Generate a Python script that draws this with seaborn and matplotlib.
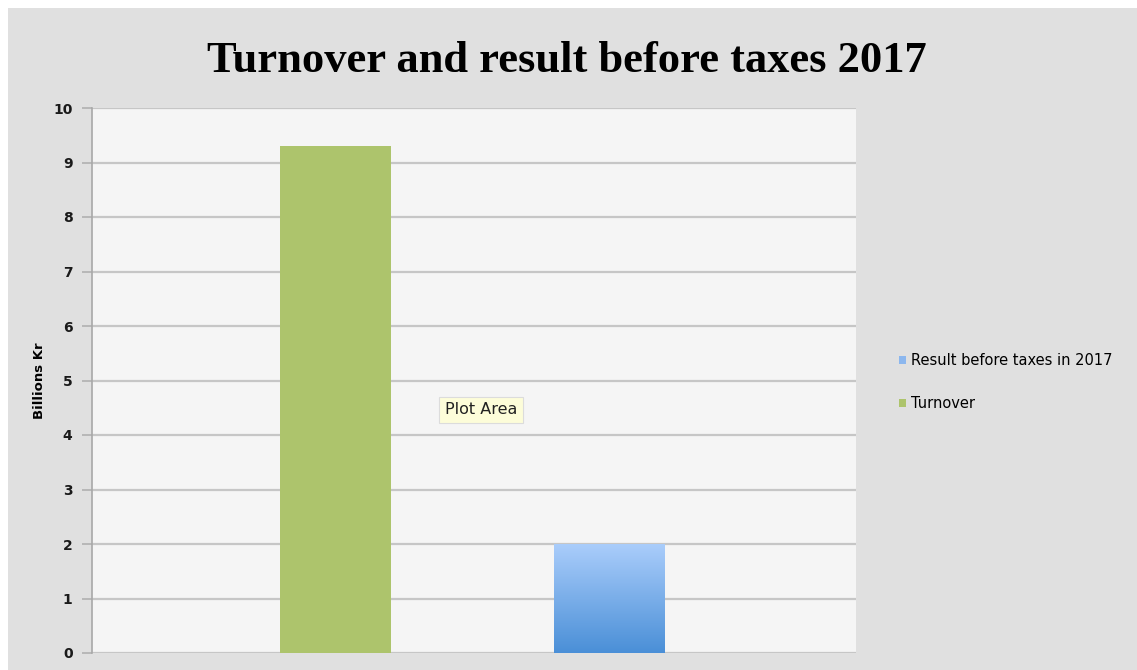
import numpy as np
import pandas as pd
import matplotlib
matplotlib.use('Agg')
import matplotlib.pyplot as plt
from matplotlib.patches import Patch, Rectangle
import seaborn as sns

# Values (billions of kroner)
categories = ['Turnover', 'Result before taxes in 2017']
values = [9.3, 2.0]
legend_order = ['Result before taxes in 2017', 'Turnover']
yticks = list(range(0, 11))

green = '#adc46c'
blue_top = '#aacdfb'
blue_bottom = '#4a8fd7'
palette = {'Turnover': green, 'Result before taxes in 2017': '#8cb7ee'}

sns.set_theme(style='whitegrid', rc={'axes.facecolor': '#f5f5f5',
                                     'grid.color': '#c6c6c6',
                                     'grid.linewidth': 1.6})

df = pd.DataFrame({'Category': categories, 'Billions Kr': values})

fig = plt.figure(figsize=(11.37, 6.7), dpi=100, facecolor='white')
# grey chart background, leaving a thin white edge top/left like the screenshot
fig.patches.append(Rectangle((8 / 1137, 0), 1, 1 - 8 / 670, transform=fig.transFigure,
                             facecolor='#e0e0e0', edgecolor='none', zorder=-10))

ax = fig.add_axes([92 / 1137, 17 / 670, 764 / 1137, 545 / 670])
sns.barplot(ax=ax, data=df, x='Category', y='Billions Kr', hue='Category',
            palette=palette, width=0.405, legend=False, saturation=1, linewidth=0)

# gradient fill for the blue bar
for bar in ax.patches:
    if abs(bar.get_height() - values[1]) < 1e-6:
        x0, w, h = bar.get_x(), bar.get_width(), bar.get_height()
        grad = np.linspace(0, 1, 256).reshape(-1, 1)
        cmap = matplotlib.colors.LinearSegmentedColormap.from_list('b', [blue_bottom, blue_top])
        im = ax.imshow(grad, cmap=cmap, origin='lower', aspect='auto',
                       extent=(x0, x0 + w, 0, h), zorder=bar.get_zorder() + 0.1)
        im.set_clip_path(bar)

ax.set_xlim(-0.89, 1.9)
ax.set_ylim(0, 10)
ax.set_yticks(yticks)
ax.set_xticks([])
ax.set_xlabel('')
ax.set_ylabel('Billions Kr', fontsize=9.5, fontweight='bold', labelpad=5, color='black')
ax.grid(axis='x', visible=False)
ax.set_axisbelow(True)
for s in ['top', 'right', 'bottom']:
    ax.spines[s].set_visible(False)
ax.spines['left'].set_color('#a8a8a8')
ax.spines['left'].set_linewidth(1.2)
ax.tick_params(axis='y', which='major', left=True, length=7, width=1.2, color='#b0b0b0',
               pad=7, labelsize=10)
for lab in ax.get_yticklabels():
    lab.set_fontweight('bold')
    lab.set_color('#1a1a1a')

fig.text(0.499, 1 - 72 / 670, 'Turnover and result before taxes 2017', ha='center',
         va='baseline', family='Liberation Serif', fontweight='bold', fontsize=32,
         color='black')

handles = [Patch(facecolor=palette[c], edgecolor='none', label=c) for c in legend_order]
fig.legend(handles=handles, loc='center left', bbox_to_anchor=(886 / 1137, 1 - 382 / 670),
           frameon=False, handlelength=0.5, handleheight=0.5, handletextpad=0.3,
           labelspacing=1.9, fontsize=10.5, labelcolor='black')

fig.text(481 / 1137, 1 - 410 / 670, 'Plot Area', ha='center', va='center', fontsize=11.5,
         color='#222222',
         bbox=dict(boxstyle='square,pad=0.35', facecolor='#fdfdd9', edgecolor='#dcdcdc', lw=0.8))

fig.savefig('out.png', dpi=100, facecolor=fig.get_facecolor())
